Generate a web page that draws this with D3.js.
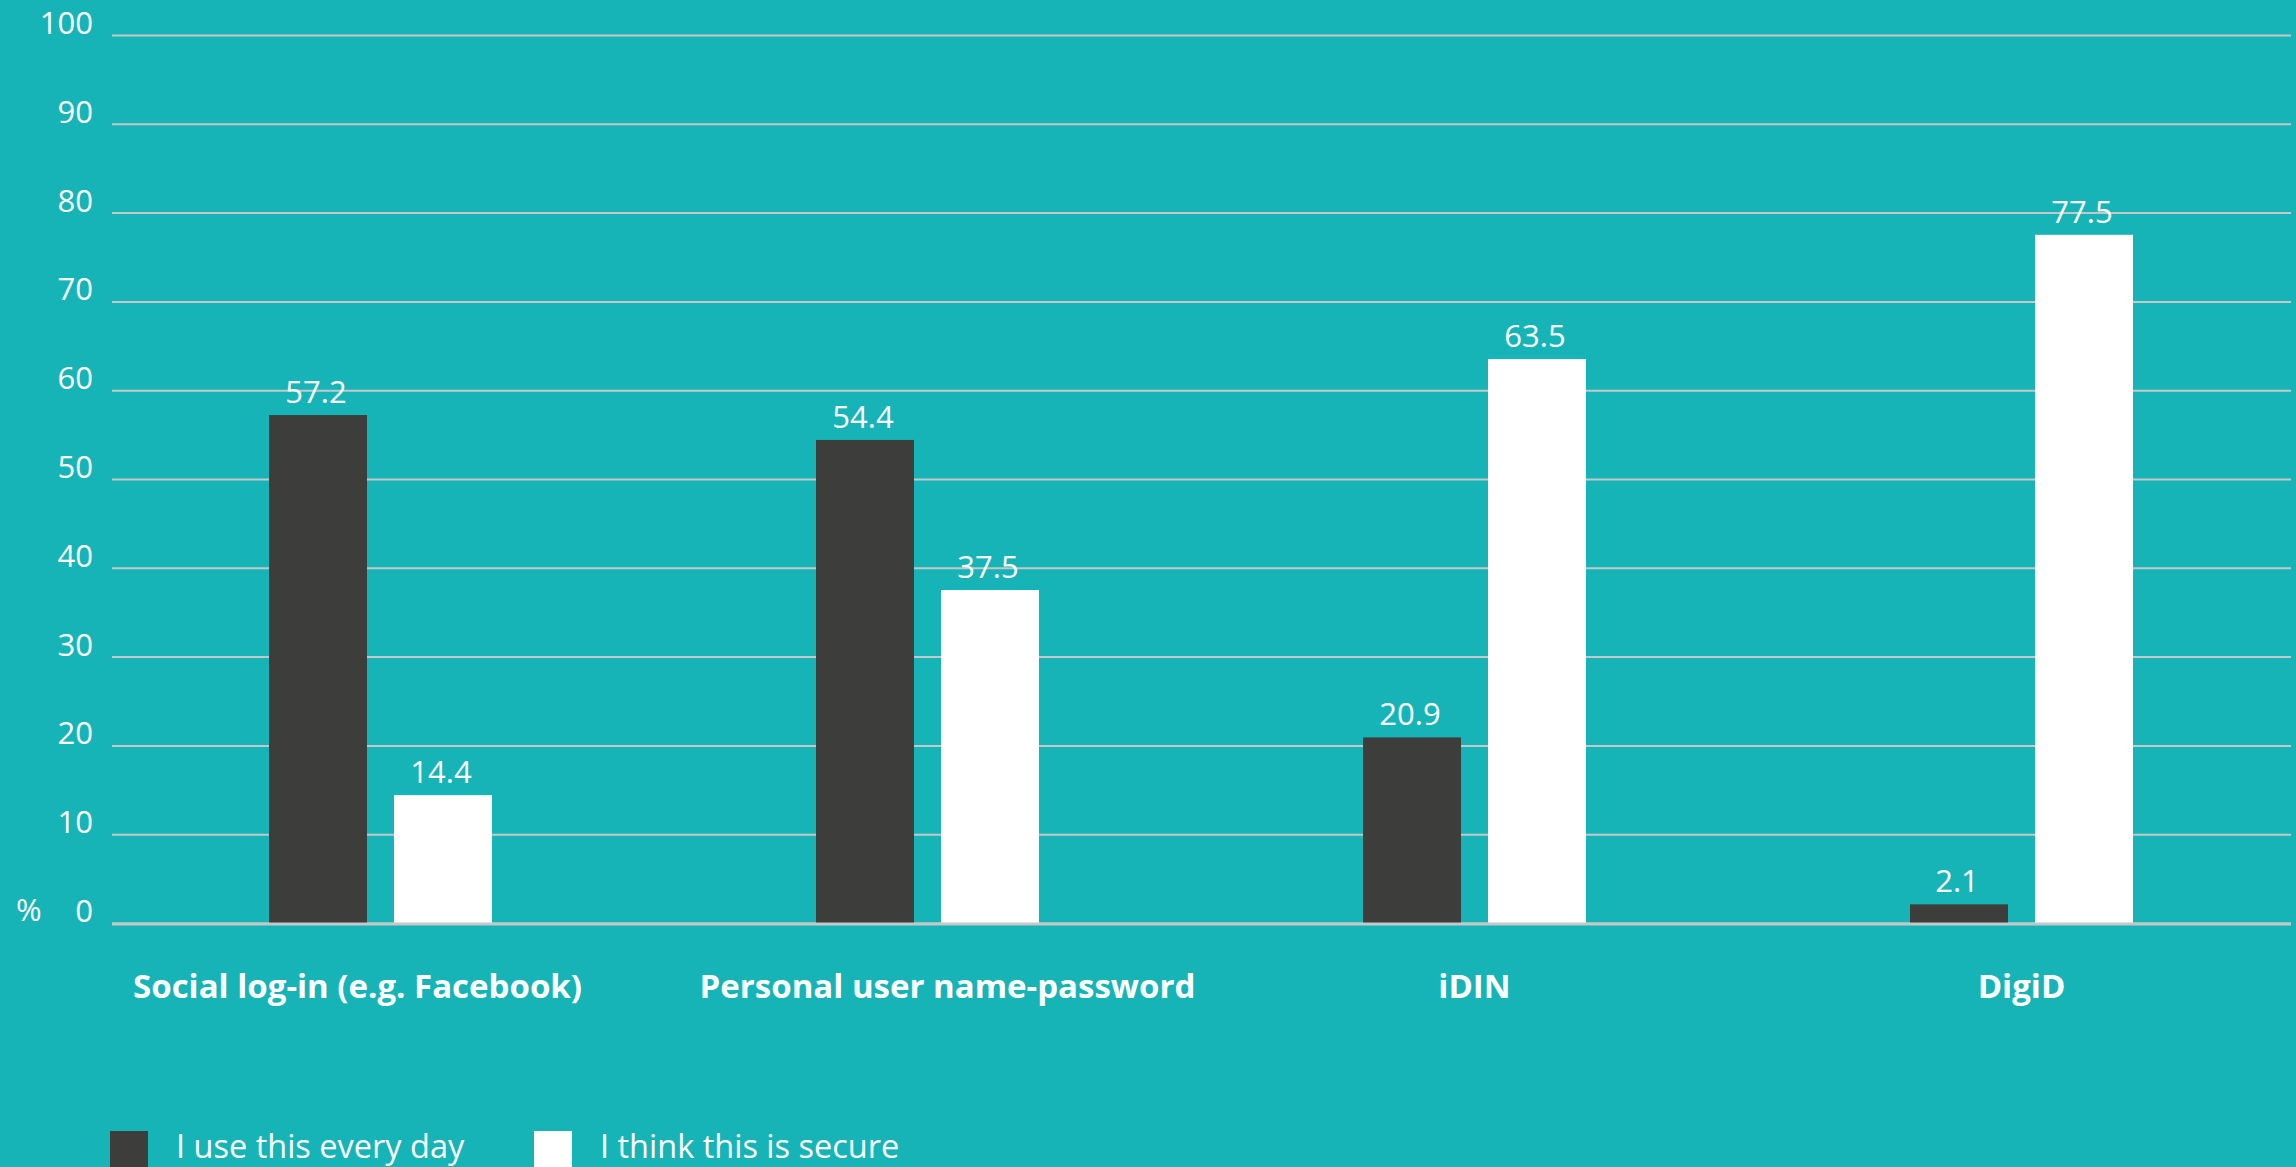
<!DOCTYPE html>
<html>
<head>
<meta charset="utf-8">
<script src="https://cdn.jsdelivr.net/npm/d3@7"></script>
<style>
  html, body { margin: 0; padding: 0; background: #16b4b7; overflow: hidden; }
  svg { display: block; }
  text { font-family: "Open Sans", Lato, sans-serif; fill: #ffffff; }
</style>
</head>
<body>
<svg id="chart" width="2296" height="1167"></svg>
<script>
const categories = ["Social log-in (e.g. Facebook)", "Personal user name-password", "iDIN", "DigiD"];
const seriesNames = ["I use this every day", "I think this is secure"];
const useEveryDay = [57.2, 54.4, 20.9, 2.1];
const thinkSecure = [14.4, 37.5, 63.5, 77.5];
const yTicks = [0, 10, 20, 30, 40, 50, 60, 70, 80, 90, 100];
const seriesColors = ["#3d3d3b", "#ffffff"];

const svg = d3.select("#chart");
const W = 2296, H = 1167;

svg.append("rect").attr("width", W).attr("height", H).attr("fill", "#16b4b7");

const y = d3.scaleLinear().domain([0, 100]).range([923, 35]);
const x0 = d3.scaleBand().domain(categories).range([107, 2295]).padding(0);
const x1 = d3.scaleBand().domain(seriesNames)
  .range([(x0.bandwidth() - 223) / 2, (x0.bandwidth() + 223) / 2])
  .paddingInner(0.216).paddingOuter(0);

const gridX1 = 112, gridX2 = 2291;

// Gridlines + tick labels
const yAxis = d3.axisLeft(y).tickValues(yTicks).tickSize(-(gridX2 - gridX1)).tickFormat(d => d);
const gAxis = svg.append("g").attr("transform", `translate(${gridX1},0)`).call(yAxis);
gAxis.select(".domain").remove();
gAxis.selectAll(".tick line").attr("stroke", "#c4c8c8").attr("stroke-width", 2);
gAxis.selectAll(".tick text")
  .attr("x", -19).attr("dy", "-0.05em")
  .attr("font-size", 31).attr("font-family", "'Open Sans', sans-serif")
  .attr("fill", "#fff").attr("text-anchor", "end");

// % sign
svg.append("text").attr("x", 16).attr("y", y(0) - 2).attr("font-size", 31).text("%");

// Bars
const data = categories.map((c, i) => ({ cat: c, vals: [useEveryDay[i], thinkSecure[i]] }));
const groups = svg.append("g").selectAll("g").data(data).join("g")
  .attr("transform", d => `translate(${x0(d.cat)},0)`);

groups.selectAll("rect").data(d => d.vals.map((v, j) => ({ v, s: seriesNames[j], j })))
  .join("rect")
  .attr("x", d => x1(d.s))
  .attr("y", d => y(d.v))
  .attr("width", x1.bandwidth())
  .attr("height", d => y(0) - y(d.v))
  .attr("fill", d => seriesColors[d.j]);

groups.selectAll("text.val").data(d => d.vals.map((v, j) => ({ v, s: seriesNames[j] })))
  .join("text").attr("class", "val")
  .attr("x", d => x1(d.s) + x1.bandwidth() / 2 - 2)
  .attr("y", d => y(d.v) - 12)
  .attr("text-anchor", "middle")
  .attr("font-size", 31)
  .text(d => d3.format(".1f")(d.v));

// Baseline on top
svg.append("line").attr("x1", gridX1).attr("x2", gridX2)
  .attr("y1", y(0) + 1).attr("y2", y(0) + 1)
  .attr("stroke", "#c4c8c8").attr("stroke-width", 3);

// Category labels (slight per-label nudge as in the original layout)
const labelNudge = { "Social log-in (e.g. Facebook)": -23, "Personal user name-password": 20 };
svg.append("g").selectAll("text").data(categories).join("text")
  .attr("x", d => x0(d) + x0.bandwidth() / 2 + (labelNudge[d] || 0))
  .attr("y", 998)
  .attr("text-anchor", "middle")
  .attr("font-size", 33)
  .attr("font-weight", "bold")
  .text(d => d);

// Legend
const legendX = [110, 534];
const leg = svg.append("g").selectAll("g").data(seriesNames).join("g")
  .attr("transform", (d, i) => `translate(${legendX[i]},1131)`);
leg.append("rect").attr("width", 38).attr("height", 38).attr("fill", (d, i) => seriesColors[i]);
leg.append("text").attr("x", 66).attr("y", 27).attr("font-size", 32.5).text(d => d);
</script>
</body>
</html>
